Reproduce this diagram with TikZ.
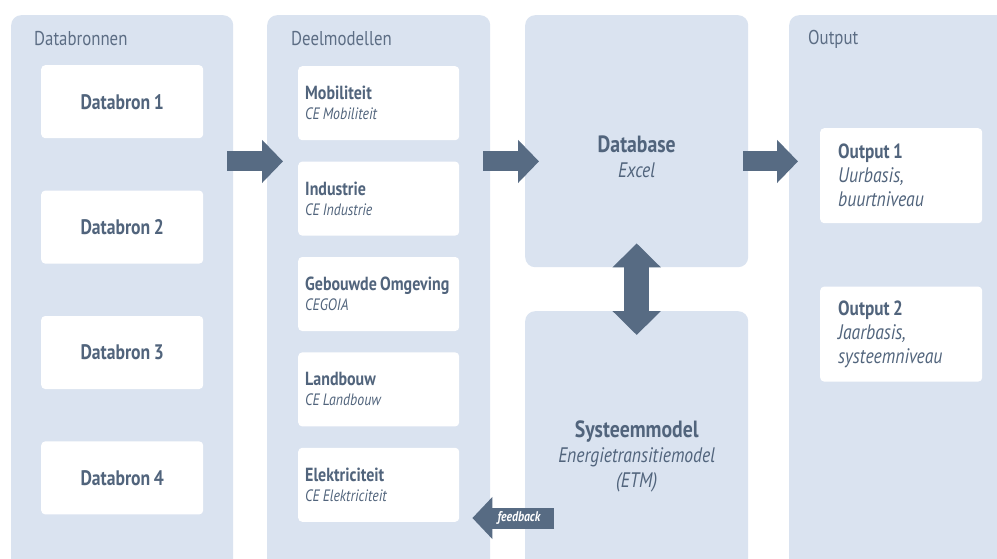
\documentclass[tikz,border=0pt]{standalone}
\usepackage{fontspec}
\setmainfont{PT Sans}[FakeStretch=0.84,WordSpace=0.8,Numbers=Proportional]
\usepackage{tikz}
\usetikzlibrary{arrows.meta,positioning,calc}
\definecolor{panelblue}{HTML}{DAE3F0}
\definecolor{slateblue}{HTML}{576B83}
\definecolor{labelblue}{HTML}{51647C}
\definecolor{titlegray}{HTML}{5C6D84}
\newcommand{\boldline}[2]{{\fontsize{#1}{#1}\selectfont\upshape\bfseries #2}}
\begin{document}
\begin{tikzpicture}[x=1pt,y=-1pt,
  panel/.style={rectangle,fill=panelblue,rounded corners=10pt,anchor=north west,inner sep=0pt},
  title/.style={inner sep=0pt,text=titlegray,font=\fontsize{20}{22}\selectfont},
  srcbox/.style={rectangle,fill=white,rounded corners=4pt,minimum width=162pt,minimum height=73pt,text=labelblue,font=\fontsize{21}{24}\selectfont\bfseries},
  subbox/.style={rectangle,fill=white,rounded corners=4pt,minimum width=161pt,minimum height=74pt,text width=147pt,inner xsep=7pt,align=flush left,text=labelblue,font=\fontsize{16.5}{20}\selectfont\itshape},
  outbox/.style={rectangle,fill=white,rounded corners=4pt,minimum width=162pt,minimum height=95pt,text width=126pt,inner xsep=18pt,align=flush left,text=labelblue,font=\fontsize{21}{24}\selectfont\itshape},
  bigtext/.style={inner sep=0pt,align=flush center,text=labelblue,font=\fontsize{21}{25}\selectfont\itshape},
  fatarr/.style={-{Triangle[length=21pt,width=42pt]},line width=20pt,draw=slateblue},
  dblarr/.style={{Triangle[length=24pt,width=47pt]}-{Triangle[length=24pt,width=47pt]},line width=25pt,draw=slateblue},
  fbarr/.style={-{Triangle[length=20pt,width=41pt]},line width=21pt,draw=slateblue}
]
\clip (0,0) rectangle (997,559);
\fill[white] (0,0) rectangle (997,559);
\node[panel,minimum width=222pt,minimum height=570pt] (srcpanel) at (11,15) {};
\node[panel,minimum width=223pt,minimum height=570pt] (deelpanel) at (267,15) {};
\node[panel,minimum width=223pt,minimum height=252pt] (dbpanel) at (525,15) {};
\node[panel,minimum width=223pt,minimum height=270pt] (syspanel) at (525,311) {};
\node[panel,minimum width=230pt,minimum height=570pt] (outpanel) at (789,15) {};
\node[title,below right=16pt and 23pt of srcpanel.north west] (srctitle) {Databronnen};
\node[title,below right=16pt and 24pt of deelpanel.north west] (deeltitle) {Deelmodellen};
\node[title,below right=15pt and 19pt of outpanel.north west] (outtitle) {Output};
\node[srcbox,below right=50pt and 30pt of srcpanel.north west] (src1) {Databron 1};
\node[srcbox,below=52pt of src1] (src2) {Databron 2};
\node[srcbox,below=52pt of src2] (src3) {Databron 3};
\node[srcbox,below=52pt of src3] (src4) {Databron 4};
\node[subbox,below right=51pt and 31pt of deelpanel.north west] (mob) {\boldline{19}{Mobiliteit}\\CE Mobiliteit};
\node[subbox,below=21pt of mob] (ind) {\boldline{19}{Industrie}\\CE Industrie};
\node[subbox,below=21pt of ind] (geb) {\boldline{19}{Gebouwde Omgeving}\\CEGOIA};
\node[subbox,below=21pt of geb] (land) {\boldline{19}{Landbouw}\\CE Landbouw};
\node[subbox,below=21pt of land] (elek) {\boldline{19}{Elektriciteit}\\CE Elektriciteit};
\node[bigtext,below=121pt of dbpanel.north] (dblabel) {\boldline{23.5}{Database}\\Excel};
\node[bigtext,below=110pt of syspanel.north] (syslabel) {\boldline{23.5}{Systeemmodel}\\Energietransitiemodel\\(ETM)};
\node[outbox,below right=113pt and 31pt of outpanel.north west] (out1) {\boldline{20.5}{Output 1}\\Uurbasis,\\buurtniveau};
\node[outbox,below=63pt of out1] (out2) {\boldline{20.5}{Output 2}\\Jaarbasis,\\systeemniveau};
\draw[fatarr] ([xshift=-6pt]srcpanel.east |- ind.north) -- ([xshift=16pt]deelpanel.west |- ind.north);
\draw[fatarr] ([xshift=-7pt]deelpanel.east |- ind.north) -- ([xshift=14pt]dbpanel.west |- ind.north);
\draw[fatarr] ([xshift=-5pt]dbpanel.east |- ind.north) -- ([xshift=9pt]outpanel.west |- ind.north);
\draw[dblarr] ([yshift=24pt]dbpanel.south) -- ([yshift=-24pt]syspanel.north);
\coordinate (fbtail) at ($(syspanel.north west)+(29,207)$);
\draw[fbarr] (fbtail) -- ([xshift=-18pt]deelpanel.east |- fbtail) node[pos=0.43,text=white,font=\fontsize{14}{15}\selectfont\bfseries\itshape] (fblabel) {feedback};
\end{tikzpicture}
\end{document}
